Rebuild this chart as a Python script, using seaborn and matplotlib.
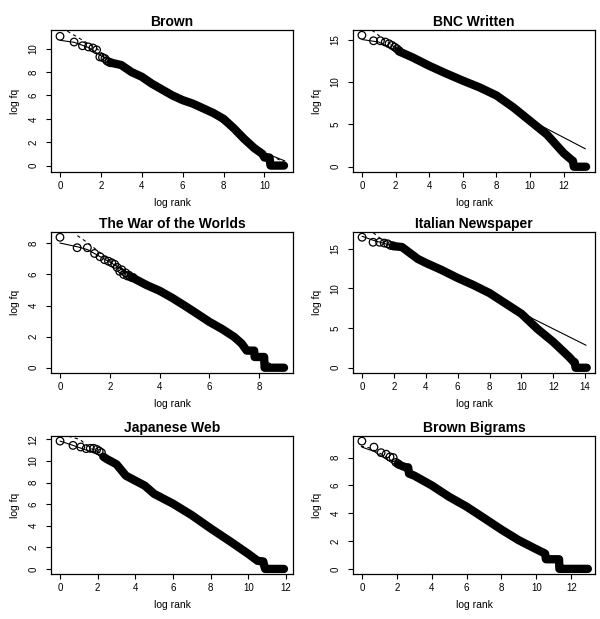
import matplotlib
matplotlib.use("Agg")
import matplotlib.pyplot as plt
import seaborn as sns

# ---------------- data ----------------
titles = ["Brown", "BNC Written", "The War of the Worlds",
          "Italian Newspaper", "Japanese Web", "Brown Bigrams"]

# Brown
brown_head_x = [0.0, 0.69, 1.10, 1.39, 1.61, 1.79, 1.95, 2.08, 2.20, 2.30, 2.40, 2.48]
brown_head_y = [11.06, 10.57, 10.25, 10.15, 10.06, 9.90, 9.30, 9.25, 9.15, 8.95, 8.85, 8.80]
brown_band_x = [2.5, 3.0, 3.5, 4.0, 4.5, 5.0, 5.5, 6.0, 6.5, 7.0, 7.5, 8.0, 8.5, 9.0, 9.5, 9.9, 10.0, 10.25, 10.3, 10.96]
brown_band_y = [8.8, 8.6, 8.0, 7.6, 7.0, 6.5, 6.0, 5.6, 5.3, 4.9, 4.5, 4.0, 3.2, 2.3, 1.5, 1.0, 0.69, 0.69, 0.0, 0.0]
brown_fit_x = [0.0, 0.69, 1.4, 2.0, 3.0, 5.0, 7.0, 9.0, 10.0, 11.0]
brown_fit_y = [10.72, 10.55, 10.1, 9.4, 8.6, 6.5, 4.9, 2.3, 1.1, 0.4]
brown_dash_x = [0.36, 1.8, 2.5, 4.0, 6.0, 8.0, 9.5, 10.5, 11.0]
brown_dash_y = [11.5, 10.0, 9.0, 7.6, 5.6, 4.0, 1.5, 0.7, 0.25]

# BNC Written
bnc_head_x = [0.0, 0.69, 1.10, 1.39, 1.61, 1.79, 1.95, 2.08, 2.20]
bnc_head_y = [15.5, 14.85, 14.85, 14.7, 14.5, 14.3, 14.1, 13.9, 13.7]
bnc_band_x = [2.2, 3.0, 4.0, 5.0, 6.0, 7.0, 8.0, 9.0, 10.0, 11.0, 12.0, 12.5, 12.55, 12.6, 13.33]
bnc_band_y = [13.6, 12.9, 11.9, 11.0, 10.15, 9.35, 8.4, 7.0, 5.4, 3.8, 1.6, 0.75, 0.69, 0.0, 0.0]
bnc_fit_x = [0.0, 1.0, 2.0, 4.0, 6.0, 8.0, 10.3, 13.29]
bnc_fit_y = [15.0, 14.7, 13.7, 11.9, 10.15, 8.4, 5.2, 2.11]
bnc_dash_x = [0.6, 1.5, 2.5, 4.0]
bnc_dash_y = [16.1, 14.7, 13.4, 11.9]

# The War of the Worlds
war_head_x = [0.0, 0.69, 1.10, 1.39, 1.61, 1.79, 1.95, 2.08, 2.20, 2.30, 2.40, 2.48, 2.56, 2.64, 2.71, 2.77, 2.83, 2.89, 2.94]
war_head_y = [8.39, 7.72, 7.72, 7.35, 7.14, 6.95, 6.85, 6.75, 6.65, 6.45, 6.2, 6.3, 6.0, 6.1, 5.9, 5.95, 5.85, 5.8, 5.8]
war_band_x = [2.9, 3.5, 4.0, 4.5, 5.0, 5.5, 6.0, 6.5, 7.0, 7.3, 7.5, 7.8, 7.82, 8.2, 8.22, 9.0]
war_band_y = [5.8, 5.3, 4.95, 4.5, 4.0, 3.48, 2.95, 2.5, 1.98, 1.55, 1.1, 1.1, 0.69, 0.69, 0.0, 0.0]
war_fit_x = [0.0, 0.7, 1.1, 2.0, 3.0, 5.0, 7.0, 8.3, 8.9]
war_fit_y = [8.02, 7.78, 7.6, 6.8, 5.8, 4.0, 1.98, 0.4, -0.2]
war_dash_x = [0.7, 1.1, 2.0, 3.0, 5.0]
war_dash_y = [8.5, 8.05, 6.9, 5.8, 4.0]

# Italian Newspaper
ita_head_x = [0.0, 0.69, 1.10, 1.39, 1.61, 1.79, 1.95]
ita_head_y = [16.43, 15.8, 15.8, 15.7, 15.6, 15.4, 15.35]
ita_band_x = [2.0, 2.5, 3.0, 3.5, 4.0, 5.0, 6.0, 7.0, 8.0, 9.0, 10.0, 11.0, 12.0, 13.0, 13.3, 13.35, 13.4, 14.1]
ita_band_y = [15.3, 15.2, 14.45, 13.7, 13.2, 12.3, 11.3, 10.4, 9.4, 8.1, 6.8, 4.9, 3.25, 1.35, 0.69, 0.69, 0.0, 0.0]
ita_fit_x = [0.0, 0.7, 2.0, 4.0, 6.0, 8.0, 10.0, 10.7, 14.06]
ita_fit_y = [16.55, 16.05, 15.3, 13.2, 11.3, 9.4, 7.0, 6.2, 2.83]
ita_dash_x = [0.7, 1.2, 2.0, 3.0]
ita_dash_y = [17.0, 16.2, 15.3, 14.45]

# Japanese Web
jap_head_x = [0.0, 0.69, 1.10, 1.39, 1.61, 1.79, 1.95, 2.08, 2.20]
jap_head_y = [11.85, 11.45, 11.3, 11.15, 11.18, 11.18, 11.08, 10.93, 10.78]
jap_band_x = [2.3, 2.5, 3.0, 3.5, 4.0, 4.5, 5.0, 6.0, 7.0, 8.0, 9.0, 10.0, 10.5, 10.8, 10.85, 10.9, 11.9]
jap_band_y = [10.4, 10.17, 9.7, 8.64, 8.18, 7.72, 6.96, 6.05, 4.98, 3.76, 2.6, 1.4, 0.75, 0.69, 0.3, 0.0, 0.0]
jap_fit_x = [0.0, 0.69, 1.5, 2.3, 3.0, 5.0, 7.0, 9.0, 10.5, 11.2]
jap_fit_y = [11.85, 11.45, 10.95, 10.4, 9.7, 6.96, 4.98, 2.6, 0.75, 0.2]
jap_dash_x = [0.44, 1.06, 1.6, 2.3, 3.0]
jap_dash_y = [12.3, 12.0, 11.2, 10.6, 9.7]

# Brown Bigrams
big_head_x = [0.0, 0.69, 1.10, 1.39, 1.61, 1.79, 1.95, 2.08]
big_head_y = [9.18, 8.75, 8.35, 8.24, 8.05, 8.0, 7.65, 7.55]
big_band_x = [2.1, 2.5, 2.65, 2.7, 3.0, 4.0, 5.0, 6.0, 7.0, 8.0, 9.0, 10.0, 10.5, 10.55, 11.3, 11.32, 12.95]
big_band_y = [7.5, 7.3, 7.3, 6.85, 6.7, 6.0, 5.18, 4.47, 3.65, 2.82, 2.05, 1.41, 1.1, 0.69, 0.69, 0.0, 0.0]
big_fit_x = [0.0, 0.69, 2.0, 4.0, 6.0, 8.0, 10.0, 11.5, 12.0]
big_fit_y = [8.75, 8.45, 7.4, 6.0, 4.47, 2.82, 1.41, 0.3, -0.15]
big_dash_x = [-0.06, 0.42, 1.2, 2.0, 4.0]
big_dash_y = [8.82, 8.7, 8.2, 7.5, 6.0]

x_ticks = [[0, 2, 4, 6, 8, 10], [0, 2, 4, 6, 8, 10, 12], [0, 2, 4, 6, 8],
           [0, 2, 4, 6, 8, 10, 12, 14], [0, 2, 4, 6, 8, 10, 12], [0, 2, 4, 6, 8, 10, 12]]
y_ticks = [[0, 2, 4, 6, 8, 10], [0, 5, 10, 15], [0, 2, 4, 6, 8],
           [0, 5, 10, 15], [0, 2, 4, 6, 8, 10, 12], [0, 2, 4, 6, 8]]

heads = [(brown_head_x, brown_head_y), (bnc_head_x, bnc_head_y), (war_head_x, war_head_y),
         (ita_head_x, ita_head_y), (jap_head_x, jap_head_y), (big_head_x, big_head_y)]
bands = [(brown_band_x, brown_band_y), (bnc_band_x, bnc_band_y), (war_band_x, war_band_y),
         (ita_band_x, ita_band_y), (jap_band_x, jap_band_y), (big_band_x, big_band_y)]
fits = [(brown_fit_x, brown_fit_y), (bnc_fit_x, bnc_fit_y), (war_fit_x, war_fit_y),
        (ita_fit_x, ita_fit_y), (jap_fit_x, jap_fit_y), (big_fit_x, big_fit_y)]
dashes = [(brown_dash_x, brown_dash_y), (bnc_dash_x, bnc_dash_y), (war_dash_x, war_dash_y),
          (ita_dash_x, ita_dash_y), (jap_dash_x, jap_dash_y), (big_dash_x, big_dash_y)]

# ---------------- layout / style ----------------
xlims = [(-0.44, 11.40), (-0.53, 13.86), (-0.36, 9.36), (-0.57, 14.62), (-0.48, 12.38), (-0.51, 13.36)]
ylims = [(-0.55, 11.6), (-0.62, 16.12), (-0.34, 8.73), (-0.66, 17.09), (-0.47, 12.32), (-0.37, 9.55)]
# pixel boxes: left, top, right, bottom
boxes = [(51, 30, 293, 172), (353, 30, 595, 172),
         (51, 232, 293, 373), (353, 232, 595, 373),
         (51, 436, 293, 574), (353, 436, 595, 574)]

sns.set_style("ticks")
plt.rcParams['font.family'] = ['Liberation Sans', 'DejaVu Sans']
plt.rcParams['text.color'] = 'black'
plt.rcParams['axes.labelcolor'] = 'black'
plt.rcParams['xtick.color'] = 'black'
plt.rcParams['ytick.color'] = 'black'

W, H = 600, 619
fig = plt.figure(figsize=(6, 6.19), dpi=100)
fig.patch.set_facecolor("white")

for i in range(6):
    l, t, r, b = boxes[i]
    ax = fig.add_axes([l / W, (H - b) / H, (r - l) / W, (b - t) / H])
    bx, by = bands[i]
    sns.lineplot(x=bx, y=by, sort=False, estimator=None, color="black", lw=6,
                 solid_capstyle="round", solid_joinstyle="round", ax=ax)
    hx, hy = heads[i]
    sns.scatterplot(x=hx, y=hy, marker="o", s=30, facecolor="none",
                    edgecolor="black", linewidth=0.9, ax=ax, zorder=3)
    fx, fy = fits[i]
    sns.lineplot(x=fx, y=fy, sort=False, estimator=None, color="black", lw=0.8, ax=ax, zorder=4)
    dx, dy = dashes[i]
    sns.lineplot(x=dx, y=dy, sort=False, estimator=None, color="black", lw=0.8,
                 linestyle=(0, (3, 3)), ax=ax, zorder=4)

    ax.set_xlim(*xlims[i])
    ax.set_ylim(*ylims[i])
    ax.set_xticks(x_ticks[i])
    ax.set_yticks(y_ticks[i])
    ax.set_yticklabels([str(v) for v in y_ticks[i]], rotation=90, va="center")
    for s in ax.spines.values():
        s.set_visible(True)
        s.set_color("black")
        s.set_linewidth(0.9)
    ax.tick_params(axis="both", direction="out", length=3.6, width=0.8,
                   colors="black", labelsize=7)
    ax.tick_params(axis="x", pad=3.0)
    ax.tick_params(axis="y", pad=5.5)
    ax.set_xlabel("log rank", fontsize=7.5, labelpad=5, color="black")
    ax.set_ylabel("log fq", fontsize=7.5, labelpad=6, color="black")
    ax.set_title(titles[i], fontsize=10, fontweight="bold", pad=3, color="black")

fig.savefig("out.png", dpi=100, facecolor="white")
